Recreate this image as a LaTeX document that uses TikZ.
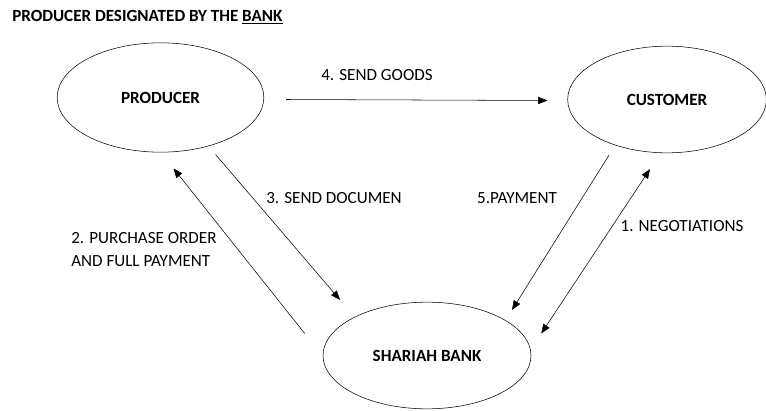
\documentclass[tikz,border=0pt]{standalone}
\usepackage{fontspec}
\setmainfont{Carlito}
\usepackage{tikz}
\usetikzlibrary{calc,arrows.meta,shapes.geometric}

\begin{document}
\begin{tikzpicture}[x=0.75pt,y=-0.75pt,
    font=\fontsize{12.8}{15}\selectfont,
    party/.style={ellipse,draw,inner sep=0pt,font=\fontsize{12.8}{15}\selectfont\bfseries},
    flow/.style={-{Triangle[length=7pt,width=5.5pt]}},
    both/.style={{Triangle[length=7pt,width=5.5pt]}-{Triangle[length=7pt,width=5.5pt]}},
    lbl/.style={inner sep=0pt}]
    \useasboundingbox (0,0) rectangle (766,410);

    \node[anchor=west,lbl,font=\fontsize{12.8}{15}\selectfont\bfseries] (title) at (12,17)
      {PRODUCER DESIGNATED BY THE \underline{BANK}};

    % the three parties
    \node[party,minimum width=155pt,minimum height=82pt] (prod) at (160.5,97.5) {PRODUCER};
    \node[party,minimum width=149pt,minimum height=80pt] (cust) at (667,99.5) {CUSTOMER};
    \node[party,minimum width=156pt,minimum height=80pt] (bank) at (427,355.5) {SHARIAH BANK};

    % flows
    \draw[flow] ($(prod.east)+(22,2)$) -- ($(cust.west)+(-20,1)$);
    \node[lbl] (goods) at (377,75) {4. SEND GOODS};

    \draw[flow] ($(prod.south)+(55,2)$) -- ($(bank.north)+(-87,-2)$);
    \node[lbl] (docs) at (334,198) {3. SEND DOCUMEN};

    \draw[flow] ($(bank.west)+(-18,-22)$) -- ($(prod.south)+(13,16)$);
    \node[lbl,anchor=west,align=left,font=\fontsize{12.8}{17.3}\selectfont] (order) at (71,249.5)
      {2. PURCHASE ORDER\\AND FULL PAYMENT};

    \draw[flow] ($(cust.south)+(-58,2)$) -- ($(bank.north)+(85,8)$);
    \node[lbl] (pay) at (517,198) {5.PAYMENT};

    \draw[both] ($(bank.east)+(10,-22)$) -- ($(cust.south)+(-17,16)$);
    \node[lbl] (nego) at (682,226) {1. NEGOTIATIONS};
\end{tikzpicture}
\end{document}
